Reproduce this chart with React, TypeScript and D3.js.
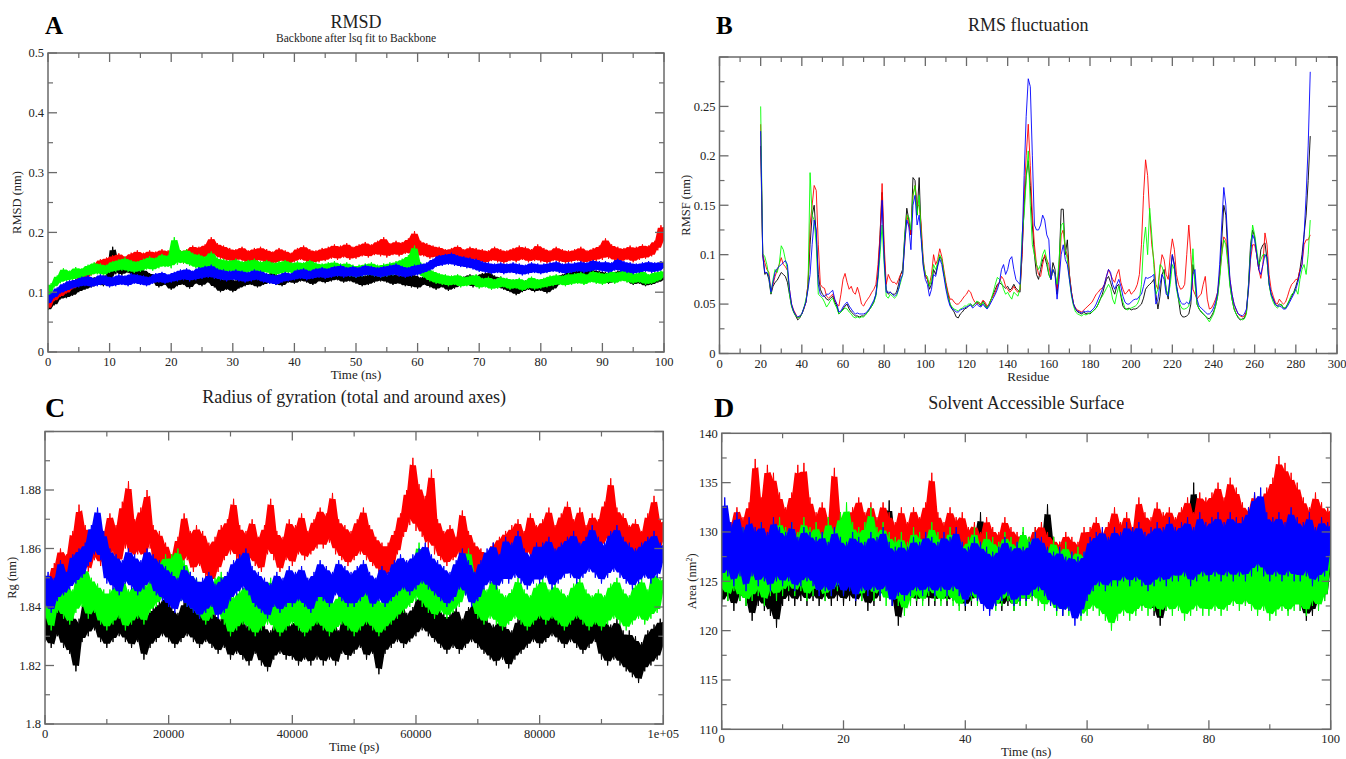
import React from "react";
import * as d3 from "d3";

const FONT = "'Liberation Serif', 'Times New Roman', serif";
const SET_COLORS = ["#000000", "#ff0000", "#00ff00", "#0000ff"];

// ---------- A: RMSD (ns, nm) ----------
const rmsdTime = d3.range(0, 100.001, 0.5);
const rmsdBlack = [
  0.070,0.085,0.078,0.095,0.088,0.102,0.090,0.108,0.094,0.112,
  0.100,0.118,0.104,0.122,0.108,0.125,0.112,0.128,0.110,0.130,
  0.118,0.176,0.130,0.150,0.128,0.158,0.132,0.150,0.126,0.145,
  0.120,0.138,0.115,0.132,0.118,0.130,0.108,0.128,0.112,0.126,
  0.104,0.125,0.110,0.130,0.112,0.128,0.106,0.132,0.114,0.128,
  0.110,0.135,0.116,0.130,0.108,0.126,0.100,0.122,0.104,0.124,
  0.100,0.120,0.106,0.126,0.110,0.130,0.112,0.128,0.108,0.125,
  0.112,0.130,0.115,0.134,0.112,0.128,0.110,0.132,0.116,0.130,
  0.114,0.132,0.118,0.136,0.116,0.130,0.112,0.134,0.118,0.132,
  0.115,0.135,0.118,0.138,0.120,0.134,0.116,0.132,0.118,0.136,
  0.114,0.130,0.110,0.128,0.112,0.132,0.116,0.134,0.118,0.136,
  0.116,0.132,0.112,0.130,0.114,0.128,0.110,0.132,0.108,0.130,
  0.106,0.125,0.112,0.130,0.108,0.126,0.104,0.124,0.108,0.128,
  0.102,0.122,0.106,0.128,0.110,0.126,0.112,0.130,0.108,0.128,
  0.112,0.132,0.116,0.134,0.112,0.128,0.108,0.126,0.104,0.122,
  0.100,0.118,0.095,0.115,0.100,0.120,0.104,0.122,0.100,0.118,
  0.102,0.120,0.098,0.118,0.104,0.126,0.112,0.130,0.116,0.134,
  0.118,0.136,0.120,0.138,0.122,0.140,0.124,0.138,0.120,0.136,
  0.118,0.134,0.114,0.132,0.116,0.136,0.120,0.138,0.118,0.134,
  0.112,0.130,0.114,0.128,0.110,0.126,0.112,0.130,0.116,0.132,
  0.120,
];
const rmsdRed = [
  0.072,0.090,0.085,0.100,0.092,0.108,0.098,0.115,0.105,0.122,
  0.112,0.132,0.120,0.140,0.128,0.148,0.135,0.155,0.138,0.158,
  0.140,0.162,0.142,0.165,0.145,0.160,0.140,0.166,0.146,0.170,
  0.144,0.166,0.148,0.170,0.146,0.168,0.150,0.172,0.148,0.170,
  0.150,0.174,0.152,0.170,0.148,0.172,0.154,0.178,0.152,0.176,
  0.156,0.180,0.158,0.192,0.160,0.182,0.156,0.178,0.152,0.174,
  0.150,0.172,0.154,0.176,0.150,0.170,0.148,0.174,0.152,0.176,
  0.150,0.172,0.146,0.168,0.148,0.174,0.152,0.170,0.146,0.166,
  0.150,0.174,0.154,0.178,0.150,0.172,0.148,0.170,0.150,0.174,
  0.152,0.176,0.156,0.180,0.154,0.178,0.158,0.182,0.154,0.176,
  0.156,0.180,0.160,0.184,0.158,0.180,0.162,0.186,0.160,0.192,
  0.158,0.182,0.162,0.186,0.160,0.184,0.164,0.190,0.162,0.202,
  0.158,0.186,0.160,0.182,0.156,0.178,0.158,0.176,0.154,0.172,
  0.152,0.174,0.156,0.178,0.152,0.172,0.150,0.176,0.154,0.174,
  0.150,0.172,0.148,0.170,0.152,0.176,0.150,0.172,0.148,0.170,
  0.152,0.174,0.150,0.178,0.154,0.176,0.150,0.172,0.152,0.180,
  0.150,0.174,0.148,0.170,0.152,0.176,0.150,0.172,0.148,0.170,
  0.150,0.172,0.152,0.176,0.148,0.170,0.150,0.174,0.152,0.178,
  0.154,0.190,0.156,0.180,0.152,0.176,0.150,0.174,0.154,0.178,
  0.150,0.176,0.154,0.180,0.156,0.178,0.160,0.186,0.170,0.212,
  0.185,
];
const rmsdGreen = [
  0.090,0.115,0.108,0.128,0.115,0.140,0.118,0.136,0.120,0.142,
  0.122,0.140,0.126,0.146,0.128,0.150,0.130,0.148,0.128,0.146,
  0.132,0.152,0.134,0.155,0.136,0.158,0.134,0.154,0.132,0.152,
  0.134,0.156,0.138,0.160,0.136,0.158,0.140,0.164,0.142,0.162,
  0.140,0.192,0.146,0.170,0.148,0.172,0.144,0.166,0.140,0.164,
  0.138,0.160,0.140,0.168,0.136,0.158,0.134,0.156,0.132,0.154,
  0.134,0.156,0.132,0.152,0.130,0.154,0.134,0.156,0.130,0.152,
  0.132,0.154,0.130,0.150,0.128,0.152,0.130,0.154,0.132,0.150,
  0.130,0.152,0.128,0.150,0.132,0.154,0.130,0.150,0.126,0.148,
  0.128,0.150,0.130,0.152,0.126,0.148,0.128,0.150,0.126,0.146,
  0.124,0.146,0.126,0.148,0.128,0.150,0.126,0.146,0.124,0.148,
  0.126,0.150,0.128,0.152,0.130,0.156,0.132,0.162,0.136,0.178,
  0.130,0.150,0.124,0.142,0.118,0.136,0.114,0.132,0.112,0.130,
  0.110,0.128,0.112,0.130,0.108,0.126,0.110,0.128,0.112,0.130,
  0.106,0.124,0.108,0.126,0.104,0.122,0.106,0.126,0.108,0.124,
  0.104,0.122,0.106,0.124,0.102,0.120,0.106,0.126,0.104,0.122,
  0.106,0.124,0.108,0.128,0.110,0.130,0.112,0.128,0.110,0.132,
  0.112,0.132,0.114,0.134,0.112,0.130,0.116,0.136,0.114,0.134,
  0.112,0.132,0.116,0.136,0.114,0.134,0.118,0.138,0.116,0.134,
  0.114,0.132,0.116,0.136,0.112,0.130,0.114,0.134,0.118,0.136,
  0.125,
];
const rmsdBlue = [
  0.080,0.098,0.090,0.108,0.098,0.115,0.102,0.120,0.106,0.122,
  0.108,0.126,0.110,0.128,0.108,0.124,0.110,0.130,0.112,0.128,
  0.108,0.126,0.110,0.130,0.112,0.128,0.110,0.132,0.114,0.130,
  0.112,0.128,0.110,0.126,0.114,0.132,0.116,0.134,0.114,0.130,
  0.116,0.134,0.118,0.138,0.120,0.140,0.118,0.136,0.120,0.142,
  0.122,0.144,0.124,0.146,0.122,0.140,0.120,0.138,0.118,0.136,
  0.120,0.138,0.118,0.136,0.116,0.134,0.118,0.138,0.120,0.136,
  0.116,0.132,0.114,0.130,0.112,0.130,0.116,0.134,0.118,0.132,
  0.120,0.138,0.122,0.140,0.120,0.136,0.122,0.140,0.124,0.142,
  0.122,0.140,0.124,0.144,0.126,0.146,0.124,0.142,0.126,0.144,
  0.124,0.142,0.126,0.146,0.128,0.144,0.126,0.142,0.124,0.144,
  0.126,0.146,0.128,0.148,0.126,0.144,0.124,0.142,0.126,0.146,
  0.128,0.148,0.132,0.150,0.136,0.156,0.142,0.162,0.144,0.164,
  0.146,0.166,0.144,0.162,0.142,0.160,0.140,0.158,0.138,0.156,
  0.134,0.152,0.132,0.150,0.130,0.148,0.132,0.150,0.130,0.148,
  0.132,0.150,0.130,0.148,0.128,0.146,0.130,0.150,0.132,0.148,
  0.130,0.148,0.132,0.150,0.134,0.152,0.132,0.148,0.130,0.150,
  0.132,0.150,0.134,0.152,0.132,0.150,0.134,0.154,0.136,0.152,
  0.134,0.152,0.132,0.150,0.136,0.156,0.134,0.152,0.132,0.150,
  0.130,0.148,0.132,0.150,0.134,0.152,0.132,0.150,0.134,0.152,
  0.140,
];
const rmsdXTicks = [0, 10, 20, 30, 40, 50, 60, 70, 80, 90, 100];
const rmsdXLabels = ["0", "10", "20", "30", "40", "50", "60", "70", "80", "90", "100"];
const rmsdYTicks = [0, 0.1, 0.2, 0.3, 0.4, 0.5];
const rmsdYLabels = ["0", "0.1", "0.2", "0.3", "0.4", "0.5"];

// ---------- B: RMSF per residue (nm) ----------
const residues = d3.range(20, 288);
const rmsfBlack = [
  0.210,0.100,0.080,0.082,0.075,0.060,0.068,0.072,0.074,0.078,
  0.082,0.080,0.078,0.072,0.060,0.048,0.042,0.038,0.034,0.036,
  0.040,0.046,0.052,0.070,0.110,0.140,0.150,0.120,0.080,0.065,
  0.060,0.058,0.055,0.054,0.056,0.058,0.052,0.048,0.040,0.042,
  0.045,0.048,0.050,0.045,0.042,0.040,0.038,0.038,0.037,0.038,
  0.038,0.040,0.042,0.045,0.048,0.052,0.060,0.080,0.120,0.163,
  0.100,0.065,0.060,0.062,0.060,0.060,0.062,0.070,0.080,0.085,
  0.120,0.147,0.135,0.120,0.178,0.175,0.140,0.178,0.120,0.090,
  0.078,0.075,0.065,0.070,0.085,0.080,0.090,0.098,0.095,0.080,
  0.070,0.060,0.050,0.045,0.042,0.037,0.036,0.040,0.042,0.045,
  0.046,0.048,0.050,0.048,0.050,0.052,0.050,0.048,0.053,0.050,
  0.046,0.050,0.055,0.060,0.065,0.070,0.072,0.070,0.068,0.066,
  0.068,0.064,0.066,0.070,0.066,0.064,0.062,0.100,0.150,0.180,
  0.195,0.170,0.130,0.100,0.080,0.075,0.085,0.095,0.098,0.090,
  0.080,0.075,0.092,0.085,0.060,0.090,0.146,0.146,0.100,0.115,
  0.080,0.062,0.050,0.045,0.042,0.041,0.040,0.042,0.040,0.041,
  0.040,0.042,0.044,0.046,0.050,0.055,0.060,0.068,0.075,0.078,
  0.072,0.065,0.060,0.068,0.070,0.058,0.048,0.045,0.045,0.046,
  0.044,0.045,0.045,0.046,0.048,0.050,0.056,0.065,0.068,0.070,
  0.072,0.075,0.060,0.045,0.058,0.080,0.085,0.065,0.055,0.080,
  0.100,0.090,0.070,0.055,0.040,0.037,0.037,0.038,0.040,0.050,
  0.090,0.075,0.050,0.045,0.042,0.040,0.038,0.036,0.035,0.038,
  0.042,0.048,0.058,0.080,0.115,0.150,0.140,0.100,0.070,0.055,
  0.045,0.040,0.036,0.034,0.035,0.036,0.042,0.070,0.110,0.125,
  0.118,0.100,0.085,0.105,0.110,0.112,0.095,0.070,0.060,0.055,
  0.050,0.048,0.050,0.049,0.046,0.046,0.050,0.054,0.058,0.062,
  0.068,0.075,0.085,0.100,0.120,0.140,0.175,0.220,
];
const rmsfRed = [
  0.232,0.100,0.092,0.085,0.082,0.062,0.070,0.078,0.084,0.090,
  0.097,0.090,0.088,0.084,0.065,0.050,0.044,0.040,0.036,0.038,
  0.040,0.045,0.052,0.070,0.130,0.150,0.170,0.165,0.110,0.070,
  0.067,0.066,0.058,0.056,0.058,0.060,0.054,0.050,0.048,0.060,
  0.075,0.081,0.072,0.065,0.068,0.062,0.060,0.067,0.060,0.050,
  0.048,0.052,0.055,0.058,0.062,0.065,0.070,0.090,0.120,0.172,
  0.110,0.070,0.080,0.075,0.072,0.072,0.070,0.075,0.080,0.082,
  0.110,0.140,0.130,0.120,0.160,0.170,0.150,0.150,0.130,0.095,
  0.080,0.075,0.070,0.080,0.100,0.090,0.095,0.106,0.098,0.085,
  0.072,0.062,0.055,0.055,0.052,0.050,0.050,0.052,0.055,0.058,
  0.060,0.064,0.062,0.056,0.052,0.050,0.052,0.050,0.054,0.052,
  0.048,0.050,0.055,0.058,0.062,0.068,0.072,0.078,0.075,0.068,
  0.065,0.062,0.064,0.068,0.064,0.062,0.065,0.100,0.160,0.200,
  0.232,0.190,0.140,0.110,0.090,0.080,0.078,0.090,0.100,0.095,
  0.090,0.075,0.085,0.080,0.065,0.080,0.120,0.125,0.105,0.100,
  0.080,0.062,0.050,0.046,0.044,0.043,0.042,0.044,0.046,0.048,
  0.050,0.052,0.056,0.060,0.062,0.065,0.066,0.070,0.078,0.085,
  0.080,0.075,0.072,0.080,0.085,0.072,0.065,0.060,0.062,0.065,
  0.060,0.062,0.065,0.070,0.080,0.110,0.160,0.196,0.180,0.140,
  0.110,0.095,0.070,0.065,0.085,0.100,0.095,0.080,0.075,0.100,
  0.116,0.105,0.080,0.070,0.065,0.066,0.070,0.100,0.130,0.100,
  0.065,0.060,0.055,0.058,0.060,0.070,0.078,0.055,0.045,0.046,
  0.050,0.055,0.062,0.080,0.100,0.118,0.115,0.095,0.075,0.060,
  0.050,0.044,0.040,0.038,0.037,0.038,0.042,0.065,0.095,0.110,
  0.110,0.100,0.085,0.076,0.090,0.122,0.110,0.080,0.065,0.058,
  0.052,0.050,0.055,0.052,0.050,0.052,0.058,0.065,0.070,0.072,
  0.075,0.075,0.085,0.090,0.110,0.115,0.115,0.120,
];
const rmsfGreen = [
  0.250,0.101,0.098,0.090,0.078,0.061,0.075,0.085,0.082,0.090,
  0.109,0.105,0.095,0.085,0.060,0.048,0.042,0.038,0.036,0.037,
  0.040,0.046,0.055,0.065,0.183,0.140,0.135,0.110,0.060,0.058,
  0.056,0.052,0.047,0.050,0.054,0.056,0.050,0.046,0.040,0.042,
  0.044,0.046,0.045,0.042,0.040,0.037,0.036,0.037,0.036,0.037,
  0.037,0.039,0.042,0.045,0.048,0.052,0.058,0.075,0.100,0.130,
  0.090,0.058,0.056,0.060,0.058,0.056,0.058,0.065,0.072,0.080,
  0.118,0.140,0.138,0.125,0.160,0.170,0.140,0.160,0.120,0.092,
  0.080,0.078,0.068,0.074,0.090,0.085,0.092,0.100,0.095,0.082,
  0.068,0.058,0.050,0.047,0.045,0.044,0.043,0.045,0.046,0.048,
  0.048,0.050,0.050,0.048,0.050,0.053,0.052,0.049,0.052,0.048,
  0.046,0.050,0.055,0.062,0.070,0.077,0.075,0.072,0.065,0.060,
  0.062,0.058,0.055,0.062,0.060,0.058,0.066,0.120,0.140,0.175,
  0.205,0.150,0.110,0.100,0.090,0.085,0.090,0.100,0.105,0.095,
  0.080,0.075,0.085,0.080,0.070,0.095,0.130,0.132,0.105,0.095,
  0.075,0.058,0.048,0.042,0.040,0.039,0.038,0.040,0.039,0.040,
  0.041,0.042,0.044,0.046,0.050,0.055,0.058,0.062,0.066,0.070,
  0.066,0.055,0.050,0.060,0.068,0.060,0.052,0.046,0.044,0.045,
  0.046,0.047,0.048,0.050,0.055,0.070,0.110,0.128,0.100,0.147,
  0.120,0.090,0.060,0.065,0.090,0.088,0.080,0.065,0.058,0.070,
  0.090,0.085,0.065,0.055,0.048,0.045,0.045,0.046,0.048,0.060,
  0.106,0.070,0.050,0.045,0.043,0.040,0.038,0.035,0.032,0.036,
  0.040,0.048,0.058,0.075,0.100,0.115,0.110,0.090,0.068,0.055,
  0.045,0.040,0.037,0.035,0.034,0.035,0.040,0.068,0.105,0.130,
  0.120,0.105,0.090,0.095,0.100,0.100,0.095,0.070,0.058,0.052,
  0.048,0.046,0.048,0.050,0.046,0.046,0.050,0.055,0.060,0.062,
  0.065,0.060,0.075,0.085,0.090,0.080,0.100,0.135,
];
const rmsfBlue = [
  0.225,0.100,0.082,0.082,0.078,0.062,0.072,0.082,0.086,0.088,
  0.090,0.092,0.094,0.090,0.065,0.050,0.043,0.039,0.037,0.038,
  0.040,0.046,0.052,0.065,0.080,0.110,0.135,0.125,0.070,0.060,
  0.058,0.058,0.060,0.060,0.062,0.064,0.055,0.050,0.042,0.043,
  0.047,0.050,0.052,0.048,0.045,0.042,0.040,0.041,0.040,0.040,
  0.040,0.041,0.043,0.046,0.050,0.054,0.060,0.078,0.110,0.155,
  0.095,0.062,0.062,0.062,0.060,0.058,0.060,0.065,0.075,0.080,
  0.112,0.135,0.128,0.105,0.150,0.160,0.130,0.140,0.115,0.088,
  0.075,0.070,0.058,0.065,0.080,0.078,0.088,0.096,0.090,0.078,
  0.065,0.055,0.048,0.045,0.044,0.042,0.042,0.044,0.045,0.046,
  0.047,0.048,0.049,0.046,0.048,0.050,0.048,0.047,0.050,0.047,
  0.045,0.048,0.052,0.056,0.060,0.065,0.072,0.085,0.090,0.080,
  0.085,0.095,0.098,0.085,0.075,0.072,0.070,0.110,0.180,0.240,
  0.278,0.270,0.200,0.130,0.125,0.125,0.130,0.140,0.135,0.120,
  0.115,0.075,0.085,0.080,0.055,0.075,0.100,0.110,0.095,0.090,
  0.075,0.060,0.050,0.045,0.043,0.042,0.041,0.043,0.042,0.043,
  0.042,0.044,0.046,0.050,0.055,0.060,0.065,0.070,0.078,0.085,
  0.082,0.070,0.065,0.070,0.075,0.068,0.058,0.052,0.050,0.050,
  0.052,0.054,0.055,0.055,0.058,0.060,0.068,0.077,0.076,0.077,
  0.078,0.080,0.050,0.055,0.070,0.080,0.075,0.060,0.058,0.080,
  0.100,0.088,0.068,0.058,0.052,0.050,0.050,0.052,0.050,0.055,
  0.080,0.085,0.055,0.048,0.046,0.044,0.042,0.040,0.040,0.042,
  0.046,0.052,0.062,0.090,0.130,0.168,0.150,0.110,0.075,0.060,
  0.050,0.045,0.040,0.039,0.038,0.040,0.045,0.065,0.100,0.120,
  0.115,0.100,0.085,0.080,0.090,0.100,0.098,0.072,0.060,0.055,
  0.050,0.048,0.048,0.047,0.045,0.045,0.048,0.052,0.056,0.060,
  0.065,0.072,0.082,0.090,0.120,0.160,0.210,0.285,
];
const rmsfXTicks = [0, 20, 40, 60, 80, 100, 120, 140, 160, 180, 200, 220, 240, 260, 280, 300];
const rmsfXLabels = ["0", "20", "40", "60", "80", "100", "120", "140", "160", "180", "200", "220", "240", "260", "280", "300"];
const rmsfYTicks = [0, 0.05, 0.1, 0.15, 0.2, 0.25, 0.3];
const rmsfYLabels = ["0", "0.05", "0.1", "0.15", "0.2", "0.25", ""];

// ---------- C: radius of gyration (ps, nm) ----------
const rgTime = d3.range(0, 100000.1, 500);
const rgBlack = [
  1.828,1.842,1.826,1.838,1.830,1.844,1.826,1.836,1.824,1.838,
  1.818,1.836,1.828,1.842,1.830,1.846,1.832,1.844,1.828,1.840,
  1.826,1.840,1.828,1.842,1.830,1.844,1.828,1.840,1.826,1.838,
  1.828,1.842,1.822,1.838,1.826,1.840,1.828,1.842,1.830,1.844,
  1.828,1.840,1.826,1.838,1.828,1.842,1.830,1.844,1.828,1.840,
  1.826,1.838,1.828,1.840,1.826,1.838,1.824,1.836,1.826,1.840,
  1.822,1.836,1.824,1.838,1.822,1.834,1.820,1.836,1.824,1.838,
  1.820,1.834,1.818,1.832,1.822,1.836,1.824,1.838,1.822,1.834,
  1.822,1.836,1.820,1.832,1.822,1.834,1.820,1.836,1.822,1.838,
  1.820,1.834,1.822,1.836,1.820,1.832,1.824,1.838,1.822,1.834,
  1.824,1.838,1.826,1.840,1.822,1.836,1.824,1.838,1.817,1.834,
  1.824,1.838,1.826,1.840,1.828,1.842,1.826,1.838,1.828,1.840,
  1.830,1.844,1.832,1.846,1.830,1.842,1.828,1.840,1.826,1.838,
  1.824,1.838,1.826,1.840,1.824,1.836,1.826,1.840,1.828,1.842,
  1.826,1.838,1.824,1.836,1.822,1.834,1.820,1.836,1.822,1.834,
  1.819,1.832,1.822,1.836,1.824,1.838,1.826,1.840,1.828,1.842,
  1.826,1.840,1.828,1.842,1.830,1.844,1.828,1.840,1.826,1.838,
  1.828,1.842,1.826,1.838,1.824,1.836,1.826,1.840,1.828,1.842,
  1.822,1.836,1.820,1.834,1.822,1.836,1.820,1.832,1.818,1.832,
  1.816,1.830,1.814,1.828,1.818,1.832,1.820,1.834,1.822,1.836,
  1.826,
];
const rgRed = [
  1.842,1.850,1.838,1.855,1.846,1.860,1.848,1.858,1.852,1.866,
  1.850,1.875,1.856,1.868,1.852,1.864,1.856,1.870,1.854,1.866,
  1.856,1.872,1.858,1.868,1.854,1.876,1.860,1.883,1.856,1.870,
  1.858,1.874,1.856,1.880,1.860,1.868,1.852,1.866,1.850,1.862,
  1.848,1.858,1.850,1.864,1.854,1.872,1.856,1.866,1.852,1.868,
  1.854,1.866,1.850,1.862,1.848,1.864,1.852,1.868,1.856,1.870,
  1.858,1.877,1.856,1.868,1.852,1.866,1.856,1.870,1.854,1.864,
  1.852,1.868,1.858,1.877,1.856,1.866,1.852,1.864,1.856,1.870,
  1.854,1.868,1.858,1.872,1.856,1.866,1.858,1.870,1.860,1.874,
  1.860,1.872,1.862,1.879,1.858,1.870,1.856,1.868,1.854,1.866,
  1.856,1.870,1.858,1.874,1.856,1.868,1.854,1.864,1.852,1.862,
  1.850,1.862,1.852,1.866,1.858,1.872,1.864,1.880,1.868,1.891,
  1.866,1.882,1.864,1.878,1.860,1.887,1.858,1.870,1.856,1.866,
  1.854,1.868,1.856,1.864,1.858,1.873,1.854,1.866,1.852,1.862,
  1.850,1.860,1.848,1.858,1.850,1.862,1.852,1.864,1.854,1.866,
  1.852,1.868,1.856,1.870,1.854,1.866,1.858,1.872,1.856,1.868,
  1.856,1.870,1.858,1.874,1.856,1.868,1.858,1.872,1.860,1.876,
  1.858,1.870,1.856,1.874,1.860,1.868,1.856,1.872,1.858,1.870,
  1.860,1.876,1.862,1.884,1.860,1.874,1.858,1.872,1.856,1.868,
  1.856,1.870,1.854,1.866,1.858,1.872,1.856,1.878,1.858,1.870,
  1.862,
];
const rgGreen = [
  1.836,1.850,1.832,1.846,1.838,1.852,1.836,1.848,1.834,1.846,
  1.838,1.852,1.840,1.854,1.836,1.850,1.838,1.848,1.834,1.846,
  1.832,1.846,1.834,1.848,1.836,1.850,1.832,1.846,1.834,1.848,
  1.836,1.850,1.834,1.848,1.838,1.852,1.840,1.856,1.842,1.858,
  1.844,1.858,1.846,1.860,1.842,1.856,1.840,1.852,1.838,1.850,
  1.836,1.848,1.834,1.846,1.836,1.850,1.838,1.852,1.834,1.846,
  1.830,1.844,1.832,1.846,1.834,1.848,1.832,1.844,1.830,1.842,
  1.832,1.846,1.834,1.850,1.832,1.844,1.830,1.842,1.832,1.846,
  1.834,1.848,1.832,1.844,1.830,1.842,1.832,1.846,1.834,1.848,
  1.832,1.846,1.830,1.842,1.832,1.844,1.834,1.848,1.832,1.846,
  1.830,1.842,1.832,1.846,1.834,1.848,1.832,1.844,1.830,1.842,
  1.832,1.846,1.834,1.848,1.836,1.850,1.838,1.852,1.840,1.854,
  1.842,1.862,1.840,1.856,1.838,1.852,1.836,1.848,1.838,1.850,
  1.836,1.848,1.838,1.852,1.840,1.856,1.844,1.860,1.840,1.852,
  1.836,1.848,1.834,1.846,1.836,1.850,1.834,1.846,1.832,1.844,
  1.834,1.846,1.836,1.850,1.834,1.846,1.832,1.844,1.834,1.848,
  1.836,1.850,1.834,1.846,1.836,1.848,1.834,1.846,1.832,1.844,
  1.834,1.848,1.836,1.850,1.834,1.846,1.832,1.844,1.834,1.846,
  1.832,1.844,1.834,1.848,1.836,1.850,1.834,1.846,1.832,1.844,
  1.834,1.848,1.836,1.850,1.834,1.846,1.836,1.852,1.838,1.850,
  1.845,
];
const rgBlue = [
  1.840,1.852,1.838,1.850,1.842,1.856,1.844,1.852,1.846,1.858,
  1.848,1.860,1.850,1.862,1.854,1.868,1.858,1.874,1.856,1.866,
  1.848,1.860,1.846,1.858,1.844,1.856,1.848,1.860,1.846,1.858,
  1.844,1.856,1.846,1.860,1.848,1.858,1.844,1.856,1.842,1.854,
  1.840,1.852,1.838,1.850,1.842,1.854,1.840,1.852,1.838,1.850,
  1.836,1.850,1.838,1.852,1.840,1.848,1.836,1.850,1.838,1.852,
  1.842,1.856,1.844,1.858,1.846,1.860,1.844,1.854,1.840,1.852,
  1.838,1.850,1.836,1.848,1.840,1.852,1.838,1.850,1.840,1.854,
  1.840,1.852,1.842,1.854,1.840,1.850,1.838,1.852,1.842,1.856,
  1.842,1.854,1.840,1.852,1.844,1.856,1.842,1.854,1.840,1.852,
  1.840,1.854,1.842,1.856,1.844,1.852,1.840,1.850,1.842,1.854,
  1.840,1.852,1.842,1.856,1.844,1.858,1.846,1.856,1.844,1.858,
  1.846,1.860,1.848,1.862,1.846,1.858,1.844,1.856,1.842,1.854,
  1.840,1.852,1.842,1.856,1.846,1.860,1.844,1.856,1.840,1.852,
  1.842,1.856,1.846,1.860,1.848,1.862,1.846,1.858,1.848,1.864,
  1.848,1.862,1.850,1.866,1.848,1.860,1.846,1.858,1.848,1.862,
  1.848,1.862,1.850,1.864,1.846,1.860,1.848,1.862,1.850,1.864,
  1.850,1.866,1.848,1.862,1.850,1.864,1.852,1.868,1.850,1.864,
  1.848,1.862,1.850,1.866,1.852,1.868,1.850,1.864,1.848,1.862,
  1.846,1.860,1.848,1.862,1.850,1.864,1.848,1.866,1.850,1.862,
  1.855,
];
const rgXTicks = [0, 20000, 40000, 60000, 80000, 100000];
const rgXLabels = ["0", "20000", "40000", "60000", "80000", "1e+05"];
const rgYTicks = [1.8, 1.82, 1.84, 1.86, 1.88, 1.9];
const rgYLabels = ["1.8", "1.82", "1.84", "1.86", "1.88", ""];

// ---------- D: solvent accessible surface (ns, nm^2) ----------
const sasTime = d3.range(0, 100.001, 0.5);
const sasBlack = [
  122.5,129.0,123.0,130.0,122.0,129.5,123.0,130.5,122.5,129.0,
  121.0,128.5,122.5,129.5,122.0,128.0,121.5,129.0,120.3,128.5,
  122.5,129.5,123.0,130.0,122.5,129.0,123.0,130.5,122.5,129.5,
  123.0,130.0,122.5,129.0,123.0,129.5,122.5,130.0,123.0,130.5,
  122.5,129.5,123.0,130.0,122.5,129.0,123.0,130.5,122.0,129.5,
  122.5,130.0,123.0,131.0,123.5,133.2,122.5,130.0,120.5,128.5,
  122.5,129.5,123.0,130.0,122.5,129.5,123.0,131.0,122.5,130.0,
  122.5,129.5,123.0,130.0,122.5,129.0,123.0,130.5,122.5,129.5,
  122.0,129.0,122.5,130.0,123.0,132.0,122.5,129.5,122.0,129.0,
  122.5,129.5,122.0,129.0,122.5,129.5,122.0,129.0,122.5,130.0,
  122.5,129.5,123.0,130.5,122.5,129.0,123.0,132.8,122.5,129.5,
  122.0,129.0,121.5,128.5,122.0,129.0,121.5,128.5,122.0,129.5,
  122.5,129.5,123.0,130.0,122.5,129.5,123.0,130.5,122.5,129.0,
  122.5,129.5,123.0,130.0,122.5,129.0,122.0,129.5,122.5,130.0,
  122.5,129.5,121.5,128.5,120.5,128.0,122.0,129.5,122.5,130.0,
  123.0,130.5,123.5,131.0,123.0,135.0,123.5,131.5,123.0,130.5,
  123.0,130.0,123.5,130.5,123.0,130.0,123.5,131.0,123.0,130.5,
  123.0,130.0,122.5,129.5,123.0,130.0,122.5,129.5,123.0,130.0,
  122.5,129.5,123.0,130.0,122.5,129.5,122.0,129.0,122.5,129.5,
  122.0,128.5,121.0,128.0,121.5,128.5,122.5,129.5,123.0,130.0,
  126.0,
];
const sasRed = [
  124.5,129.0,126.5,131.0,127.5,132.5,128.0,131.5,127.0,133.0,
  128.0,137.4,129.0,133.5,128.5,136.8,129.5,136.0,128.0,134.0,
  127.5,132.5,128.5,134.0,129.0,136.8,128.0,137.0,128.5,133.5,
  127.0,132.0,128.0,133.0,127.5,131.5,128.5,136.5,127.5,132.0,
  126.5,131.0,127.5,132.5,128.0,133.5,128.5,132.0,127.5,133.0,
  127.0,131.5,128.0,133.0,127.5,132.0,126.5,131.0,127.0,132.5,
  126.5,131.0,127.5,132.5,128.0,131.5,127.5,133.0,128.5,136.0,
  127.5,132.0,126.5,131.0,127.0,132.5,126.5,131.5,127.0,132.0,
  126.0,130.5,126.5,131.0,125.5,130.0,126.0,131.5,126.5,130.5,
  125.5,130.0,126.0,131.5,125.5,130.5,126.0,130.0,125.5,129.5,
  125.0,129.5,125.5,130.5,126.0,131.0,125.5,130.0,125.0,129.5,
  124.5,129.0,125.0,130.0,125.5,129.5,124.5,129.0,125.0,130.5,
  125.5,130.5,126.0,131.5,125.5,130.0,126.0,131.0,126.5,132.5,
  126.0,131.0,126.5,132.0,126.0,130.5,126.5,133.5,127.0,132.0,
  126.5,131.5,127.0,133.0,126.5,132.0,127.5,132.5,127.0,131.5,
  127.5,132.5,128.0,133.5,127.5,132.0,128.5,134.0,128.0,133.5,
  128.5,134.0,129.0,135.0,128.5,133.5,129.0,135.5,128.5,134.5,
  128.0,133.0,127.5,132.5,128.5,134.0,128.0,133.0,128.5,134.5,
  129.0,135.5,129.5,137.7,129.0,137.0,128.5,136.0,129.0,135.0,
  128.0,133.5,127.5,132.5,128.0,134.0,127.5,133.0,127.0,132.5,
  130.0,
];
const sasGreen = [
  123.5,132.0,123.0,130.0,124.0,129.5,123.0,130.5,122.5,129.0,
  123.0,130.0,123.5,131.0,122.5,129.5,123.5,130.5,123.0,131.5,
  123.5,130.5,124.0,131.0,123.5,130.0,124.0,131.5,123.0,130.5,
  123.5,131.0,124.0,130.0,123.0,131.5,123.5,130.5,124.0,132.0,
  123.5,133.0,124.0,131.0,123.5,130.5,123.0,131.0,124.0,132.5,
  123.0,130.5,123.5,131.0,122.5,130.0,123.0,129.5,122.5,130.0,
  121.5,129.0,122.5,130.5,123.0,130.0,122.5,129.5,123.5,131.0,
  123.0,130.0,122.5,129.0,123.0,130.5,122.5,129.5,122.0,129.0,
  122.5,129.5,123.0,130.5,122.5,129.0,123.0,130.0,122.5,129.5,
  122.0,129.0,122.5,130.0,123.0,129.5,122.0,129.0,122.5,130.5,
  122.5,129.5,123.0,130.0,122.5,129.0,122.0,128.5,122.5,129.5,
  121.5,128.5,122.0,129.0,121.5,128.0,122.0,128.5,121.0,128.0,
  121.5,128.5,122.0,129.0,121.5,127.5,121.0,128.0,120.0,127.5,
  121.0,128.0,121.5,128.5,121.0,127.5,121.5,128.5,122.0,129.5,
  121.5,128.0,122.0,128.5,121.5,127.5,122.0,128.0,121.5,128.5,
  122.0,128.5,121.0,127.5,121.5,128.0,122.0,129.0,121.5,128.5,
  121.5,128.0,122.0,128.5,121.5,127.5,122.0,128.0,122.5,129.0,
  122.0,128.5,122.5,129.0,122.0,128.0,121.5,127.5,122.0,128.5,
  121.0,127.5,121.5,128.0,122.0,128.5,121.5,128.0,122.0,128.5,
  122.0,128.5,121.5,128.0,122.5,129.0,122.0,128.5,123.0,130.0,
  127.0,
];
const sasBlue = [
  125.0,133.5,125.5,131.0,124.5,132.0,125.5,130.5,124.0,131.5,
  125.5,130.5,124.5,131.0,125.0,130.0,124.0,131.5,125.0,130.5,
  124.5,130.0,125.0,131.0,124.0,129.5,124.5,130.5,125.0,130.0,
  124.5,129.5,123.5,130.0,124.0,129.0,123.5,130.5,124.5,129.5,
  123.5,129.0,124.0,130.0,123.0,129.5,124.0,129.0,123.5,130.0,
  124.0,129.5,123.5,130.5,124.0,129.0,122.5,128.5,123.5,129.0,
  123.0,128.5,123.5,129.5,124.0,129.0,123.5,130.0,124.0,129.5,
  123.5,129.0,124.0,130.0,123.5,129.5,124.0,130.5,123.5,129.0,
  122.5,128.5,123.5,129.5,123.0,129.0,122.0,128.5,121.5,128.0,
  122.5,128.5,123.0,129.5,123.5,128.5,122.5,129.0,123.0,128.5,
  123.0,129.0,123.5,130.0,124.0,129.5,123.5,128.5,122.5,128.0,
  122.0,128.5,121.5,127.5,122.0,128.0,120.5,127.5,121.5,128.0,
  123.0,129.5,124.0,130.0,124.5,130.5,124.0,129.5,124.5,130.5,
  124.5,130.0,125.0,131.0,124.5,130.5,125.0,131.0,124.5,130.0,
  124.0,130.5,124.5,131.0,125.0,130.5,124.5,131.5,125.0,130.5,
  125.0,131.0,125.5,131.5,124.5,130.5,125.0,132.0,125.5,131.0,
  125.0,131.5,125.5,132.0,125.0,131.0,125.5,132.0,125.0,131.5,
  125.5,131.5,125.0,132.5,125.5,134.0,126.0,134.5,125.5,132.0,
  125.0,131.5,125.5,132.0,125.0,131.0,125.5,132.5,125.0,131.5,
  125.0,131.0,125.5,132.0,124.5,130.5,125.0,131.5,125.5,131.0,
  128.0,
];
const sasXTicks = [0, 20, 40, 60, 80, 100];
const sasXLabels = ["0", "20", "40", "60", "80", "100"];
const sasYTicks = [110, 115, 120, 125, 130, 135, 140];
const sasYLabels = ["110", "115", "120", "125", "130", "135", "140"];

type PanelProps = {
  id: string;
  left: number; right: number; top: number; bottom: number;
  xDomain: [number, number]; yDomain: [number, number];
  xTicks: number[]; xLabels: string[]; xMinorStep: number;
  yTicks: number[]; yLabels: string[]; yMinorStep: number;
  xs: number[]; sets: number[][]; noisy?: boolean;
  letter: string; letterY: number; letterX: number; letterSize: number;
  title: string; titleY: number; subtitle?: string;
  xTitle: string; yTitle: React.ReactNode; yTitleX: number;
};

// local low/high of each trajectory sample and its neighbours (for the dense trace core)
function envelope(s: number[]) {
  const lo = s.map((_, i) => d3.min(s.slice(Math.max(0, i - 1), i + 2)) as number);
  const hi = s.map((_, i) => d3.max(s.slice(Math.max(0, i - 1), i + 2)) as number);
  return { lo, hi };
}

function Panel(p: PanelProps) {
  const x = d3.scaleLinear().domain(p.xDomain).range([p.left, p.right]);
  const y = d3.scaleLinear().domain(p.yDomain).range([p.bottom, p.top]);
  const line = d3.line<number>().x((_, i) => x(p.xs[i])).y((d) => y(d));
  const cx = (p.left + p.right) / 2;
  const cy = (p.top + p.bottom) / 2;
  const xMinor = d3.range(p.xDomain[0], p.xDomain[1] + 1e-9, p.xMinorStep).filter((v) => !p.xTicks.some((t) => Math.abs(t - v) < 1e-9));
  const yMinor = d3.range(p.yDomain[0], p.yDomain[1] + 1e-9, p.yMinorStep).filter((v) => !p.yTicks.some((t) => Math.abs(t - v) < 1e-9));
  const frame = "#6a6a6a";
  const major = 9, minor = 5;
  const inset = 0.1;
  return (
    <g>
      <defs>
        <clipPath id={`clip-${p.id}`}>
          <rect x={p.left} y={p.top} width={p.right - p.left} height={p.bottom - p.top} />
        </clipPath>
      </defs>
      <g clipPath={`url(#clip-${p.id})`}>
        {p.sets.map((s, i) => {
          let core = null;
          if (p.noisy) {
            const { lo, hi } = envelope(s);
            const area = d3.area<number>()
              .x((_, j) => x(p.xs[j]))
              .y0((_, j) => y(lo[j] + inset * (hi[j] - lo[j])))
              .y1((_, j) => y(hi[j] - inset * (hi[j] - lo[j])));
            core = <path d={area(s) || ""} fill={SET_COLORS[i]} stroke="none" />;
          }
          return (
            <g key={i}>
              {core}
              <path d={line(s) || ""} fill="none" stroke={SET_COLORS[i]} strokeWidth={p.noisy ? 1 : 0.9} strokeLinejoin="round" />
            </g>
          );
        })}
      </g>
      <rect x={p.left} y={p.top} width={p.right - p.left} height={p.bottom - p.top} fill="none" stroke={frame} strokeWidth={1.5} />
      {p.xTicks.map((t) => (
        <g key={`xt${t}`} stroke={frame} strokeWidth={1.3}>
          <line x1={x(t)} x2={x(t)} y1={p.bottom} y2={p.bottom - major} />
          <line x1={x(t)} x2={x(t)} y1={p.top} y2={p.top + major} />
        </g>
      ))}
      {xMinor.map((t) => (
        <g key={`xm${t}`} stroke={frame} strokeWidth={1.2}>
          <line x1={x(t)} x2={x(t)} y1={p.bottom} y2={p.bottom - minor} />
          <line x1={x(t)} x2={x(t)} y1={p.top} y2={p.top + minor} />
        </g>
      ))}
      {p.yTicks.map((t) => (
        <g key={`yt${t}`} stroke={frame} strokeWidth={1.3}>
          <line x1={p.left} x2={p.left + major} y1={y(t)} y2={y(t)} />
          <line x1={p.right} x2={p.right - major} y1={y(t)} y2={y(t)} />
        </g>
      ))}
      {yMinor.map((t) => (
        <g key={`ym${t}`} stroke={frame} strokeWidth={1.2}>
          <line x1={p.left} x2={p.left + minor} y1={y(t)} y2={y(t)} />
          <line x1={p.right} x2={p.right - minor} y1={y(t)} y2={y(t)} />
        </g>
      ))}
      <g fontFamily={FONT} fontSize={12.5} fill="#222">
        {p.xTicks.map((t, i) => (
          <text key={`xl${t}`} x={x(t)} y={p.bottom + 14} textAnchor="middle">{p.xLabels[i]}</text>
        ))}
        {p.yTicks.map((t, i) => (
          <text key={`yl${t}`} x={p.left - 4} y={y(t)} dy="0.35em" textAnchor="end">{p.yLabels[i]}</text>
        ))}
      </g>
      <text x={cx} y={p.bottom + 27} textAnchor="middle" fontFamily={FONT} fontSize={13} fill="#222">{p.xTitle}</text>
      <text transform={`translate(${p.yTitleX},${cy}) rotate(-90)`} textAnchor="middle" dy="0.35em" fontFamily={FONT} fontSize={12.5} fill="#222">{p.yTitle}</text>
      <text x={cx} y={p.titleY} textAnchor="middle" fontFamily={FONT} fontSize={18} fill="#222">{p.title}</text>
      {p.subtitle && (
        <text x={cx} y={p.titleY + 14} textAnchor="middle" fontFamily={FONT} fontSize={11.5} fill="#222">{p.subtitle}</text>
      )}
      <text x={p.letterX} y={p.letterY} fontFamily={FONT} fontWeight="bold" fontSize={p.letterSize} fill="#000">{p.letter}</text>
    </g>
  );
}

export default function App() {
  return (
    <svg width={1346} height={759} style={{ position: "absolute", left: 0, top: 0, background: "#fff" }}>
      <rect width={1346} height={759} fill="#fff" />
      <Panel
        id="a" left={48} right={664} top={53} bottom={352}
        xDomain={[0, 100]} yDomain={[0, 0.5]}
        xTicks={rmsdXTicks} xLabels={rmsdXLabels} xMinorStep={5}
        yTicks={rmsdYTicks} yLabels={rmsdYLabels} yMinorStep={0.05}
        xs={rmsdTime} sets={[rmsdBlack, rmsdRed, rmsdGreen, rmsdBlue]} noisy
        letter="A" letterX={45} letterY={34} letterSize={25}
        title="RMSD" titleY={28} subtitle="Backbone after lsq fit to Backbone"
        xTitle="Time (ns)" yTitle="RMSD (nm)" yTitleX={17}
      />
      <Panel
        id="b" left={719.5} right={1337} top={57} bottom={353.5}
        xDomain={[0, 300]} yDomain={[0, 0.3]}
        xTicks={rmsfXTicks} xLabels={rmsfXLabels} xMinorStep={10}
        yTicks={rmsfYTicks} yLabels={rmsfYLabels} yMinorStep={0.025}
        xs={residues} sets={[rmsfBlack, rmsfRed, rmsfGreen, rmsfBlue]}
        letter="B" letterX={716} letterY={34} letterSize={25}
        title="RMS fluctuation" titleY={31}
        xTitle="Residue" yTitle="RMSF (nm)" yTitleX={686}
      />
      <Panel
        id="c" left={45} right={663.3} top={431.5} bottom={724}
        xDomain={[0, 100000]} yDomain={[1.8, 1.9]}
        xTicks={rgXTicks} xLabels={rgXLabels} xMinorStep={10000}
        yTicks={rgYTicks} yLabels={rgYLabels} yMinorStep={0.01}
        xs={rgTime} sets={[rgBlack, rgRed, rgGreen, rgBlue]} noisy
        letter="C" letterX={45} letterY={417} letterSize={28}
        title="Radius of gyration (total and around axes)" titleY={403}
        xTitle="Time (ps)" yTitle="Rg (nm)" yTitleX={12}
      />
      <Panel
        id="d" left={721.7} right={1330.7} top={433.3} bottom={729.3}
        xDomain={[0, 100]} yDomain={[110, 140]}
        xTicks={sasXTicks} xLabels={sasXLabels} xMinorStep={10}
        yTicks={sasYTicks} yLabels={sasYLabels} yMinorStep={2.5}
        xs={sasTime} sets={[sasBlack, sasRed, sasGreen, sasBlue]} noisy
        letter="D" letterX={714} letterY={417} letterSize={28}
        title="Solvent Accessible Surface" titleY={409}
        xTitle="Time (ns)"
        yTitle={<>Area (nm<tspan baselineShift="super" fontSize={8}>2</tspan>)</>}
        yTitleX={692}
      />
    </svg>
  );
}
